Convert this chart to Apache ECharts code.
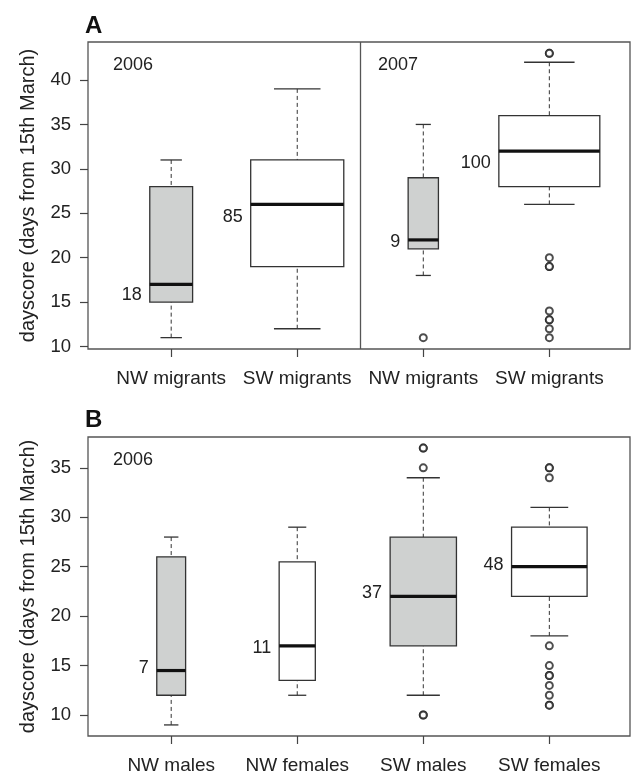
<!DOCTYPE html>
<html><head><meta charset="utf-8">
<script src="https://cdn.jsdelivr.net/npm/echarts@6/dist/echarts.min.js"></script>
<style>html,body{margin:0;padding:0;background:#fff}#c{width:633px;height:775px}</style>
</head><body><div id="c"></div>
<script>
// ---- Data ----
const catsA = ['NW migrants', 'SW migrants', 'NW migrants', 'SW migrants'];
// [lower whisker, Q1, median, Q3, upper whisker]
const statsA = [[11, 15, 17, 28, 31], [12, 19, 26, 31, 39], [18, 21, 22, 29, 35], [26, 28, 32, 36, 42]];
const nA = [18, 85, 9, 100];
const labelYA = [15.8, 24.6, 21.8, 30.7];
const fillA = [1, 0, 1, 0];
const outliersA = [[3, 11], [4, 43], [4, 43], [4, 20], [4, 19], [4, 19], [4, 14], [4, 13], [4, 13], [4, 12], [4, 11]];
const yearsA = ['2006', '2007'];

const catsB = ['NW males', 'NW females', 'SW males', 'SW females'];
const statsB = [[9, 12, 14.5, 26, 28], [12, 13.5, 17, 25.5, 29], [12, 17, 22, 28, 34], [18, 22, 25, 29, 31]];
const nB = [7, 11, 37, 48];
const labelYB = [14.8, 16.75, 22.3, 25.2];
const fillB = [1, 0, 1, 0];
const outliersB = [[3, 37], [3, 37], [3, 35], [3, 10], [3, 10], [4, 35], [4, 35], [4, 34], [4, 17], [4, 15], [4, 14], [4, 14], [4, 13], [4, 12], [4, 11], [4, 11]];
const yearsB = ['2006'];

const yTicksA = [10, 15, 20, 25, 30, 35, 40];
const yTicksB = [10, 15, 20, 25, 30, 35];
const positions = [1, 2, 3, 4];

// ---- Style ----
const FONT = "'Liberation Sans', Arial, Helvetica, sans-serif";
const GRAY = '#cfd1d0';
const LINE = '#333333';

function boxData(stats, ns, labelY, fills) {
  return stats.map((s, i) => [positions[i], s[0], s[1], s[2], s[3], s[4], ns[i], labelY[i], fills[i]]);
}

function makeRender(widthScale) {
  return function (params, api) {
    const x = api.value(0), lo = api.value(1), q1 = api.value(2), med = api.value(3),
      q3 = api.value(4), hi = api.value(5), n = api.value(6), ly = api.value(7), f = api.value(8);
    const hw = widthScale * Math.sqrt(n) / 2;
    const pTL = api.coord([x - hw, q3]);
    const pBR = api.coord([x + hw, q1]);
    const pMedL = api.coord([x - hw, med]);
    const pMedR = api.coord([x + hw, med]);
    const pHi = api.coord([x, hi]);
    const pLo = api.coord([x, lo]);
    const capL = api.coord([x - hw / 2, hi]);
    const capR = api.coord([x + hw / 2, hi]);
    const capL2 = api.coord([x - hw / 2, lo]);
    const capR2 = api.coord([x + hw / 2, lo]);
    const pLab = api.coord([x - hw, ly]);
    const dashStyle = { stroke: LINE, lineWidth: 1, lineDash: [4, 3] };
    const solid = { stroke: LINE, lineWidth: 1.3 };
    return {
      type: 'group',
      children: [
        { type: 'line', shape: { x1: pHi[0], y1: pHi[1], x2: pHi[0], y2: pTL[1] }, style: dashStyle },
        { type: 'line', shape: { x1: pLo[0], y1: pLo[1], x2: pLo[0], y2: pBR[1] }, style: dashStyle },
        { type: 'line', shape: { x1: capL[0], y1: capL[1], x2: capR[0], y2: capR[1] }, style: solid },
        { type: 'line', shape: { x1: capL2[0], y1: capL2[1], x2: capR2[0], y2: capR2[1] }, style: solid },
        { type: 'rect', shape: { x: pTL[0], y: pTL[1], width: pBR[0] - pTL[0], height: pBR[1] - pTL[1] },
          style: { fill: f ? GRAY : '#ffffff', stroke: LINE, lineWidth: 1.3 } },
        { type: 'line', shape: { x1: pMedL[0], y1: pMedL[1], x2: pMedR[0], y2: pMedR[1] },
          style: { stroke: '#111', lineWidth: 3.2 } },
        { type: 'text', x: pLab[0] - 8, y: pLab[1],
          style: { text: String(n), fill: '#222', font: '18px ' + FONT, align: 'right', verticalAlign: 'middle' } }
      ]
    };
  };
}

function xAxisFor(grid, cats) {
  return {
    type: 'value', gridIndex: grid, min: 0.34, max: 4.64,
    splitLine: { show: false }, axisLine: { show: false },
    axisTick: { show: true, customValues: positions, length: 8, lineStyle: { color: '#444', width: 1.2 } },
    axisLabel: { customValues: positions, margin: 20, color: '#222', fontSize: 19, fontFamily: FONT,
      formatter: v => cats[Math.round(v) - 1] }
  };
}
function yAxisFor(grid, min, max, ticks) {
  return {
    type: 'value', gridIndex: grid, min: min, max: max,
    name: 'dayscore (days from 15th March)', nameLocation: 'middle', nameGap: 50,
    nameTextStyle: { fontSize: 20, fontFamily: FONT, color: '#222' },
    splitLine: { show: false }, axisLine: { show: false },
    axisTick: { show: true, customValues: ticks, length: 8, lineStyle: { color: '#444', width: 1.2 } },
    axisLabel: { customValues: ticks, margin: 17, color: '#222', fontSize: 18.5, fontFamily: FONT }
  };
}

const outlierStyle = {
  type: 'scatter', symbol: 'emptyCircle', symbolSize: 7,
  itemStyle: { color: '#222', borderColor: '#222', borderWidth: 1 }, z: 5, silent: true
};

const chart = echarts.init(document.getElementById('c'), null, { renderer: 'canvas' });
chart.setOption({
  animation: false,
  backgroundColor: '#ffffff',
  grid: [
    { left: 88, top: 42, width: 542, height: 307, show: true, borderColor: '#555', borderWidth: 1.3 },
    { left: 88, top: 437, width: 542, height: 306, show: true, borderColor: '#555', borderWidth: 1.3 }
  ],
  xAxis: [xAxisFor(0, catsA), xAxisFor(1, catsB)],
  yAxis: [yAxisFor(0, 9.72, 44.28, yTicksA), yAxisFor(1, 7.88, 38.12, yTicksB)],
  graphic: [
    { type: 'text', left: 85, top: 14, style: { text: 'A', font: 'bold 24px ' + FONT, fill: '#111' } },
    { type: 'text', left: 85, top: 408, style: { text: 'B', font: 'bold 24px ' + FONT, fill: '#111' } },
    { type: 'text', left: 113, top: 56, style: { text: yearsA[0], font: '18px ' + FONT, fill: '#222' } },
    { type: 'text', left: 378, top: 56, style: { text: yearsA[1], font: '18px ' + FONT, fill: '#222' } },
    { type: 'text', left: 113, top: 451, style: { text: yearsB[0], font: '18px ' + FONT, fill: '#222' } }
  ],
  series: [
    { type: 'custom', xAxisIndex: 0, yAxisIndex: 0, renderItem: makeRender(0.0801),
      data: boxData(statsA, nA, labelYA, fillA), silent: true,
      markLine: { silent: true, symbol: 'none', label: { show: false },
        lineStyle: { color: '#555', width: 1.3, type: 'solid' }, data: [{ xAxis: 2.5 }] } },
    { type: 'custom', xAxisIndex: 1, yAxisIndex: 1, renderItem: makeRender(0.0865),
      data: boxData(statsB, nB, labelYB, fillB), silent: true },
    Object.assign({ xAxisIndex: 0, yAxisIndex: 0, data: outliersA }, outlierStyle),
    Object.assign({ xAxisIndex: 1, yAxisIndex: 1, data: outliersB }, outlierStyle)
  ]
});
</script></body></html>
